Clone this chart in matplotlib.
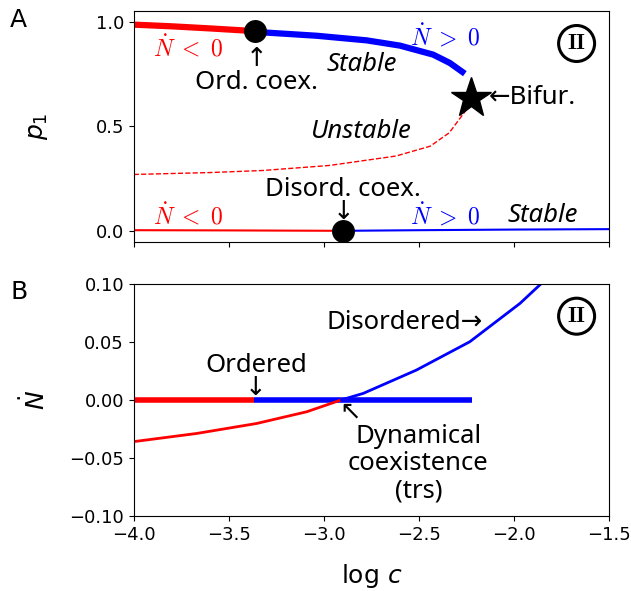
import matplotlib
matplotlib.use("Agg")
import matplotlib.pyplot as plt
import numpy as np

plt.rcParams['font.family'] = ['DejaVu Sans']
plt.rcParams['mathtext.fontset'] = 'dejavusans'

ANN = ['Noto Sans', 'DejaVu Sans']   # font of the annotations
FS = 18.5                            # annotation size
NFS = 17                             # size of the Ndot labels

# Panel A: ordered branch (stable), split at ordered coexistence
ord_red_x = [-4.0, -3.8, -3.6, -3.36]
ord_red_y = [0.986, 0.978, 0.968, 0.955]
ord_blue_x = [-3.36, -3.319, -3.038, -2.775, -2.60, -2.425, -2.337, -2.258]
ord_blue_y = [0.955, 0.949, 0.933, 0.911, 0.886, 0.843, 0.803, 0.752]
# unstable branch
unst_x = [-4.0, -3.6, -3.32, -2.97, -2.62, -2.44, -2.34, -2.25, -2.228]
unst_y = [0.271, 0.28, 0.29, 0.314, 0.359, 0.406, 0.47, 0.58, 0.637]
# disordered branch (stable)
dis_red_x = [-4.0, -3.5, -2.9]
dis_red_y = [0.005, 0.004, 0.002]
dis_blue_x = [-2.9, -2.5, -2.0, -1.5]
dis_blue_y = [0.002, 0.005, 0.008, 0.01]
ord_coex = (-3.36, 0.955)
dis_coex = (-2.9, 0.0)
bifur = (-2.228, 0.637)

# Panel B: Ndot
nd_ord_red_x = [-4.0, -3.368]
nd_ord_blue_x = [-3.368, -2.223]
nd_dis_red_x = [-4.0, -3.67, -3.354, -3.09, -2.907]
nd_dis_red_y = [-0.036, -0.029, -0.0204, -0.0103, 0.0]
nd_dis_blue_x = [-2.907, -2.793, -2.513, -2.232, -1.968, -1.85]
nd_dis_blue_y = [0.0, 0.0055, 0.0256, 0.05, 0.083, 0.101]

xticks = [-4.0, -3.5, -3.0, -2.5, -2.0, -1.5]

fig = plt.figure(figsize=(6.31, 5.91), dpi=100)
ax1 = fig.add_axes([0.212, 0.591, 0.753, 0.390])
ax2 = fig.add_axes([0.212, 0.127, 0.753, 0.393])

def ndot(ax, x, y, txt, col):
    ax.text(x, y, txt, color=col, fontsize=NFS, math_fontfamily='cm',
            ha='center', va='center')

def ann(ax, x, y, txt, **kw):
    kw.setdefault('ha', 'center')
    kw.setdefault('va', 'center')
    ax.text(x, y, txt, fontsize=FS, family=ANN, **kw)

def circ2(ax):
    ax.text(0.932, 0.86, r'$\mathbf{II}$', fontsize=16, math_fontfamily='cm',
            transform=ax.transAxes, ha='center', va='center',
            bbox=dict(boxstyle='circle,pad=0.36', fc='white', ec='black', lw=2.2))

# ---- panel A
ax1.plot(ord_red_x, ord_red_y, color='red', lw=4.5, solid_capstyle='butt')
ax1.plot(ord_blue_x, ord_blue_y, color='blue', lw=4.5, solid_capstyle='butt')
ax1.plot(unst_x, unst_y, color='red', lw=1, ls='--')
ax1.plot(dis_red_x, dis_red_y, color='red', lw=1.5)
ax1.plot(dis_blue_x, dis_blue_y, color='blue', lw=1.5)
ax1.plot(*ord_coex, 'o', color='black', ms=15.5, zorder=5)
ax1.plot(*dis_coex, 'o', color='black', ms=15.5, zorder=5)
ax1.plot(*bifur, '*', color='black', ms=30, zorder=5)

ax1.set_xlim(-4.0, -1.5)
ax1.set_ylim(-0.05, 1.05)
ax1.set_yticks([0.0, 0.5, 1.0])
ax1.set_xticks(xticks)
ax1.set_xticklabels([])
ax1.set_ylabel(r'$p_1$', fontsize=18)
ax1.yaxis.set_label_coords(-0.177, 0.5)
ax1.tick_params(labelsize=13)

ndot(ax1, -3.716, 0.876, r'$\dot{N}\;<\;0$', 'red')
ndot(ax1, -2.363, 0.93, r'$\dot{N}\;>\;0$', 'blue')
ann(ax1, -3.355, 0.88, '↑\nOrd. coex.', va='top', linespacing=0.9)
ann(ax1, -2.80, 0.795, 'Stable', style='italic')
ann(ax1, -2.13, 0.637, '←Bifur.', ha='left')
ann(ax1, -2.80, 0.478, 'Unstable', style='italic')
ann(ax1, -2.898, 0.03, 'Disord. coex.\n↓', va='bottom', linespacing=0.9)
ndot(ax1, -3.716, 0.073, r'$\dot{N}\;<\;0$', 'red')
ndot(ax1, -2.363, 0.073, r'$\dot{N}\;>\;0$', 'blue')
ann(ax1, -1.847, 0.073, 'Stable', style='italic')
circ2(ax1)

# ---- panel B
ax2.plot(nd_ord_red_x, [0, 0], color='red', lw=4, solid_capstyle='butt')
ax2.plot(nd_ord_blue_x, [0, 0], color='blue', lw=4, solid_capstyle='butt')
ax2.plot(nd_dis_red_x, nd_dis_red_y, color='red', lw=2)
ax2.plot(nd_dis_blue_x, nd_dis_blue_y, color='blue', lw=2)

ax2.set_xlim(-4.0, -1.5)
ax2.set_ylim(-0.1, 0.1)
ax2.set_yticks([-0.10, -0.05, 0.0, 0.05, 0.10])
ax2.set_xticks(xticks)
ax2.set_ylabel(r'$\dot{N}$', fontsize=18)
ax2.yaxis.set_label_coords(-0.177, 0.5)
ax2.set_xlabel(r'log $c$', fontsize=18)
ax2.xaxis.set_label_coords(0.5, -0.2)
ax2.tick_params(labelsize=13)

ann(ax2, -3.358, -0.001, 'Ordered\n↓', va='bottom', linespacing=0.9)
ann(ax2, -2.986, 0.067, 'Disordered→', ha='left')
ann(ax2, -2.863, -0.0103, '↖')
ax2.text(-2.503, -0.055, 'Dynamical\ncoexistence\n(trs)', fontsize=FS, family=ANN,
         ha='center', va='center', linespacing=1.1)
circ2(ax2)

fig.text(0.016, 0.966, 'A', fontsize=18, va='center')
fig.text(0.016, 0.506, 'B', fontsize=18, va='center')

fig.savefig('out.png', dpi=100)
